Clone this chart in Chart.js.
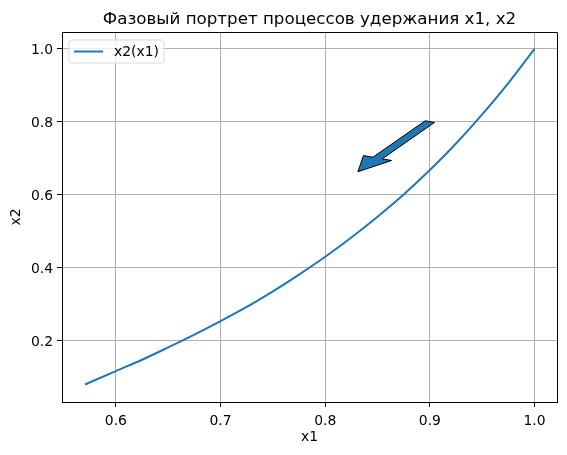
<!DOCTYPE html>
<html>
<head>
<meta charset="utf-8">
<script src="https://cdn.jsdelivr.net/npm/chart.js@4"></script>
<style>
html,body{margin:0;padding:0;background:#fff;}
canvas{display:block;}
</style>
</head>
<body>
<canvas id="c" width="567" height="455"></canvas>
<script>
// ---- data ----
const x1Values = [0.5705, 0.600, 0.625, 0.650, 0.675, 0.700, 0.725, 0.750, 0.775, 0.800, 0.825, 0.850, 0.875, 0.900, 0.925, 0.950, 0.975, 1.000];
const x2Values = [0.078, 0.115, 0.146, 0.180, 0.215, 0.252, 0.291, 0.334, 0.380, 0.429, 0.482, 0.539, 0.600, 0.667, 0.740, 0.820, 0.906, 1.000];
const xTickValues = [0.6, 0.7, 0.8, 0.9, 1.0];
const yTickValues = [0.2, 0.4, 0.6, 0.8, 1.0];
// arrow annotation (data units): start point and direction
const arrowStart = [0.9, 0.8];
const arrowDelta = [-0.05, -0.1];
const seriesLabel = 'x2(x1)';
const chartTitle = 'Фазовый портрет процессов удержания x1, x2';
const xLabel = 'x1';
const yLabel = 'x2';

const FONT = '"DejaVu Sans", sans-serif';
const C0 = '#1f77b4';
// arrow geometry in data units
const ARROW_W = 0.01, ARROW_HW = 0.03, ARROW_HL = 0.042;

const points = x1Values.map((x, i) => ({x: x, y: x2Values[i]}));

const extras = {
  id: 'extras',
  afterDraw(chart) {
    const ctx = chart.ctx;
    const a = chart.chartArea;
    const xs = chart.scales.x, ys = chart.scales.y;
    ctx.save();
    // spines top/right
    ctx.strokeStyle = '#000';
    ctx.lineWidth = 1;
    ctx.beginPath();
    ctx.moveTo(Math.round(a.left) + 0.5, Math.round(a.top) + 0.5);
    ctx.lineTo(Math.round(a.right) + 0.5, Math.round(a.top) + 0.5);
    ctx.lineTo(Math.round(a.right) + 0.5, Math.round(a.bottom) + 0.5);
    ctx.stroke();

    // title
    ctx.fillStyle = '#000';
    ctx.font = '16.7px ' + FONT;
    ctx.textAlign = 'center';
    ctx.textBaseline = 'alphabetic';
    ctx.fillText(chartTitle, (a.left + a.right) / 2, a.top - 8.5);

    // axis labels
    ctx.font = '13.9px ' + FONT;
    ctx.textBaseline = 'middle';
    ctx.fillText(xLabel, (a.left + a.right) / 2, 437.5);
    ctx.save();
    ctx.translate(16.5, (a.top + a.bottom) / 2);
    ctx.rotate(-Math.PI / 2);
    ctx.fillText(yLabel, 0, 0);
    ctx.restore();

    // legend
    const lx = a.left + 7, ly = a.top + 8, lw = 95, lh = 23, r = 3;
    ctx.beginPath();
    ctx.moveTo(lx + r, ly);
    ctx.lineTo(lx + lw - r, ly);
    ctx.quadraticCurveTo(lx + lw, ly, lx + lw, ly + r);
    ctx.lineTo(lx + lw, ly + lh - r);
    ctx.quadraticCurveTo(lx + lw, ly + lh, lx + lw - r, ly + lh);
    ctx.lineTo(lx + r, ly + lh);
    ctx.quadraticCurveTo(lx, ly + lh, lx, ly + lh - r);
    ctx.lineTo(lx, ly + r);
    ctx.quadraticCurveTo(lx, ly, lx + r, ly);
    ctx.closePath();
    ctx.fillStyle = 'rgba(255,255,255,0.8)';
    ctx.fill();
    ctx.strokeStyle = '#d9d9d9';
    ctx.lineWidth = 1;
    ctx.stroke();
    ctx.strokeStyle = C0;
    ctx.lineWidth = 2;
    ctx.beginPath();
    ctx.moveTo(lx + 5, ly + 11.5);
    ctx.lineTo(lx + 34, ly + 11.5);
    ctx.stroke();
    ctx.fillStyle = '#000';
    ctx.textAlign = 'left';
    ctx.textBaseline = 'middle';
    ctx.font = '13.9px ' + FONT;
    ctx.fillText(seriesLabel, lx + 45, ly + 12);

    // arrow: polygon built in data units (like plt.arrow), mapped through the scales
    const len = Math.hypot(arrowDelta[0], arrowDelta[1]);
    const ux = arrowDelta[0] / len, uy = arrowDelta[1] / len;
    const nx = -uy, ny = ux;
    const sx = arrowStart[0], sy = arrowStart[1];
    const w = ARROW_W / 2, hw = ARROW_HW / 2;
    const bx = sx + ux * len, by = sy + uy * len;
    const tipx = sx + ux * (len + ARROW_HL), tipy = sy + uy * (len + ARROW_HL);
    const poly = [
      [sx + nx * w, sy + ny * w],
      [bx + nx * w, by + ny * w],
      [bx + nx * hw, by + ny * hw],
      [tipx, tipy],
      [bx - nx * hw, by - ny * hw],
      [bx - nx * w, by - ny * w],
      [sx - nx * w, sy - ny * w]
    ].map(p => [xs.getPixelForValue(p[0]), ys.getPixelForValue(p[1])]);
    ctx.beginPath();
    ctx.moveTo(poly[0][0], poly[0][1]);
    for (let i = 1; i < poly.length; i++) ctx.lineTo(poly[i][0], poly[i][1]);
    ctx.closePath();
    ctx.fillStyle = C0;
    ctx.fill();
    ctx.strokeStyle = '#000';
    ctx.lineWidth = 1;
    ctx.lineJoin = 'miter';
    ctx.stroke();
    ctx.restore();
  }
};

new Chart(document.getElementById('c'), {
  type: 'line',
  data: {
    datasets: [{
      label: seriesLabel,
      data: points,
      borderColor: C0,
      backgroundColor: C0,
      borderWidth: 2,
      pointRadius: 0,
      cubicInterpolationMode: 'monotone',
      fill: false
    }]
  },
  options: {
    responsive: false,
    devicePixelRatio: 1,
    animation: false,
    layout: {padding: {left: 0, right: 10, top: 32, bottom: 0}},
    plugins: {legend: {display: false}, title: {display: false}, tooltip: {enabled: false}},
    scales: {
      x: {
        type: 'linear',
        min: 0.5485, max: 1.0215,
        afterBuildTicks: s => { s.ticks = xTickValues.map(v => ({value: v})); },
        afterFit: s => { s.height = 53; },
        grid: {color: '#b0b0b0', lineWidth: 1, tickLength: 5, tickColor: '#000'},
        border: {color: '#000', width: 1},
        ticks: {color: '#000', font: {family: FONT, size: 13.9}, padding: 6, maxRotation: 0,
                callback: v => Number(v).toFixed(1)}
      },
      y: {
        type: 'linear',
        min: 0.0300, max: 1.0462,
        afterBuildTicks: s => { s.ticks = yTickValues.map(v => ({value: v})); },
        afterFit: s => { s.width = 62; },
        grid: {color: '#b0b0b0', lineWidth: 1, tickLength: 5, tickColor: '#000'},
        border: {color: '#000', width: 1},
        ticks: {color: '#000', font: {family: FONT, size: 13.9}, padding: 4, labelOffset: 2,
                callback: v => Number(v).toFixed(1)}
      }
    }
  },
  plugins: [extras]
});
</script>
</body>
</html>
